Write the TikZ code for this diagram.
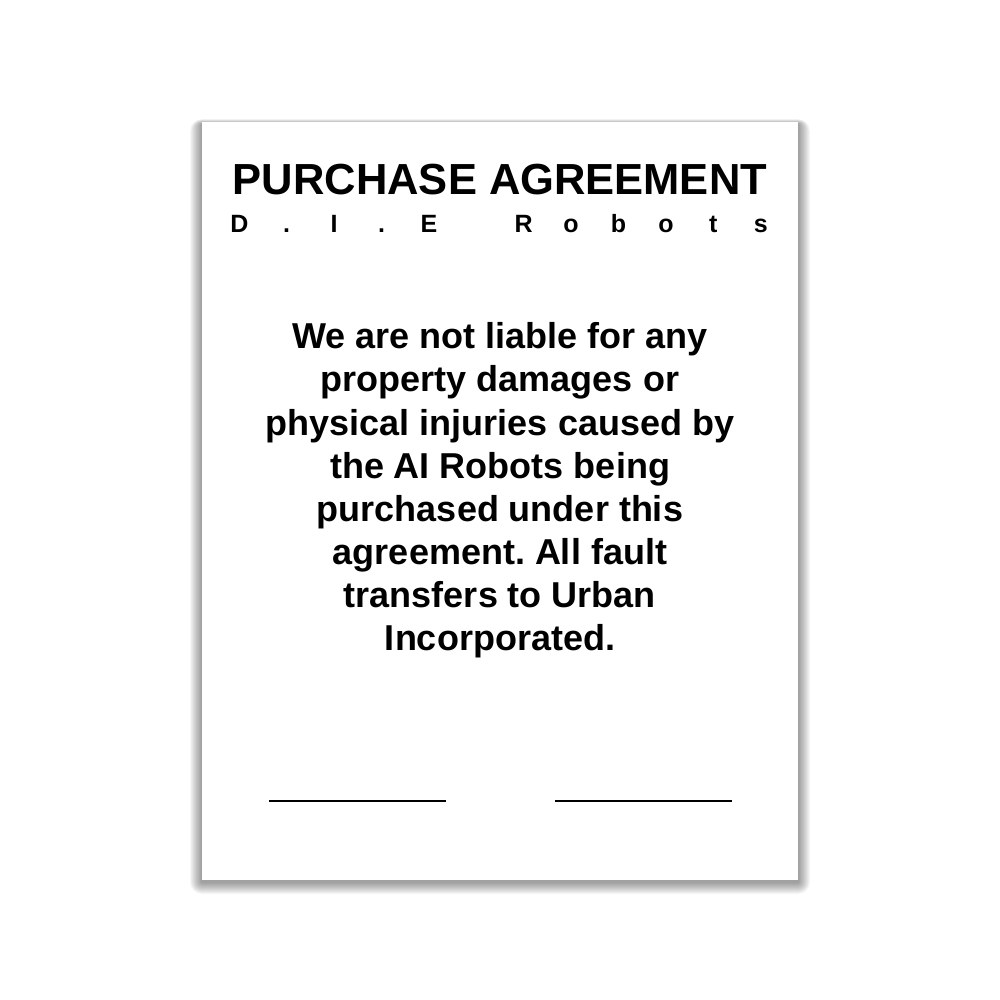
\documentclass[tikz,border=0pt]{standalone}
\usepackage{fontspec}
\setmainfont{Liberation Sans}
\frenchspacing
\newcommand{\lb}[1]{\makebox[47.4pt][c]{#1}}
\tikzset{
  paper/.style={fill=white, draw=none},
  shadowlayer/.style={fill=black, fill opacity=0.035, draw=none},
  title/.style={font=\fontsize{43.5}{50}\selectfont\bfseries, anchor=base, inner sep=0pt},
  subtitle/.style={font=\fontsize{25}{30}\selectfont\bfseries, anchor=base, inner sep=0pt},
  bodyline/.style={font=\fontsize{36}{43}\selectfont\bfseries, anchor=base, inner sep=0pt},
  sigline/.style={line width=2.6pt, black}
}
\begin{document}
\begin{tikzpicture}[x=1pt,y=-1pt]
\useasboundingbox (0,0) rectangle (1000,1000);
\fill[white] (0,0) rectangle (1000,1000);
\foreach \i in {1,...,12} {
  \path[shadowlayer, rounded corners=\i pt] ({202-\i},{124-0.4*\i}) rectangle ({798+\i},{882+\i});
}
\path[paper] (202,122) rectangle (798,880);
\node[title] (t) at (500,195) {PURCHASE AGREEMENT};
\node[subtitle] (s) at (500,233) {\lb{D}\lb{.}\lb{I}\lb{.}\lb{E}\lb{}\lb{R}\lb{o}\lb{b}\lb{o}\lb{t}\lb{s}};
\node[bodyline] (l1) at (500,348) {We are not liable for any};
\node[bodyline] (l2) at (500,391) {property damages or};
\node[bodyline] (l3) at (500,435) {physical injuries caused by};
\node[bodyline] (l4) at (500,478) {the AI Robots being};
\node[bodyline] (l5) at (500,521) {purchased under this};
\node[bodyline] (l6) at (500,564) {agreement. All fault};
\node[bodyline] (l7) at (500,607) {transfers to Urban};
\node[bodyline] (l8) at (500,650) {Incorporated.};
\coordinate (a1) at (269,801);
\coordinate (a2) at (446,801);
\coordinate (b1) at (555,801);
\coordinate (b2) at (732,801);
\draw[sigline] (a1) -- (a2);
\draw[sigline] (b1) -- (b2);
\end{tikzpicture}
\end{document}
